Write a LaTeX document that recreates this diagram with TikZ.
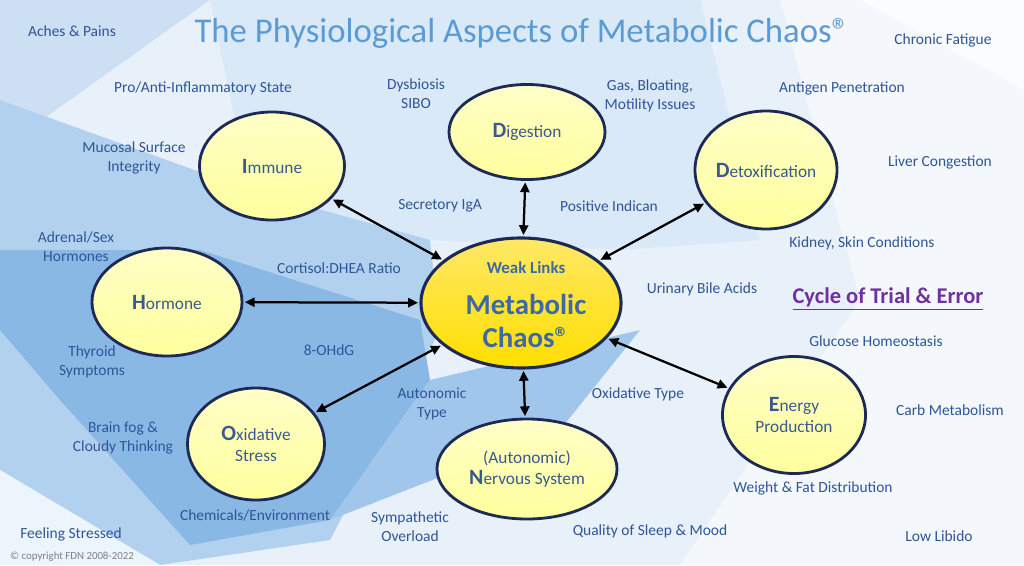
\documentclass[tikz,border=0pt]{standalone}
\usepackage{fontspec}
\setmainfont{Carlito}
\usetikzlibrary{shapes.geometric,arrows.meta}
\definecolor{lblue}{HTML}{2F5597}
\definecolor{ntext}{HTML}{3A5A8C}
\definecolor{ctext}{HTML}{3D69A6}
\definecolor{titleblue}{HTML}{5B9BD5}
\definecolor{navy}{HTML}{1C2A55}
\definecolor{purp}{HTML}{7030A0}
\tikzset{
  lbl/.style={text=lblue, font=\fontsize{11}{13.5}\selectfont, align=center, inner sep=1pt},
  sat/.style={ellipse, draw=navy, line width=2pt, inner sep=0pt, top color=yellow!22, bottom color=yellow!38!white, middle color=yellow!30, text=ntext, font=\fontsize{12.3}{15}\selectfont, align=center},
  core/.style={ellipse, draw=navy, line width=2.2pt, inner sep=0pt, top color=yellow!70!orange!60, bottom color=yellow!75!orange, text=ctext, align=center},
  link/.style={{Triangle[length=7pt,width=6.5pt]}-{Triangle[length=7pt,width=6.5pt]}, line width=1.6pt, black, shorten <=1pt, shorten >=1pt},
  bg/.style={draw=none}
}
\newcommand{\BigL}[1]{{\fontsize{15.5}{15}\selectfont\bfseries #1}}
\begin{document}
\begin{tikzpicture}[x=0.025cm,y=-0.025cm]
\useasboundingbox (0,0) rectangle (1024,565);
% background
\fill[bg, fill={rgb,255:red,232;green,240;blue,250}] (0,0) rectangle (1024,565);
\fill[bg, fill={rgb,255:red,205;green,224;blue,243}] (0,0) -- (210,0) -- (0,150) -- cycle;
\fill[bg, fill={rgb,255:red,218;green,233;blue,248}] (210,0) -- (700,0) -- (760,240) -- (620,250) -- (430,240) -- (250,190) -- cycle;
\fill[bg, fill={rgb,255:red,178;green,209;blue,238}] (0,100) -- (250,190) -- (430,240) -- (440,330) -- (330,540) -- (160,565) -- (0,470) -- cycle;
\fill[bg, fill={rgb,255:red,138;green,184;blue,229}] (0,250) -- (200,250) -- (420,320) -- (430,380) -- (330,520) -- (190,545) -- (60,400) -- (0,330) -- cycle;
\fill[bg, fill={rgb,255:red,160;green,199;blue,235}] (430,380) -- (640,330) -- (560,430) -- (330,520) -- cycle;
\fill[bg, fill={rgb,255:red,244;green,248;blue,253}] (780,0) -- (1024,0) -- (1024,565) -- (680,565) -- (860,300) -- cycle;
\fill[bg, fill={rgb,255:red,236;green,244;blue,252}] (0,470) -- (160,565) -- (0,565) -- cycle;
\fill[bg, fill={rgb,255:red,250;green,252;blue,255}] (860,0) -- (1024,0) -- (1024,90) -- cycle;

% title
\node (title) at (522,33) {\fontsize{24.7}{28}\selectfont\color{titleblue}The Physiological Aspects of Metabolic Chaos®};

% ellipses
\node[core, minimum width=5.0cm, minimum height=3.25cm] (core) at (521,303) {};
\node[text=ctext, font=\fontsize{12}{14}\selectfont\bfseries] (weak) at (526,268) {Weak Links};
\node[text=ctext, font=\fontsize{20.5}{23.5}\selectfont\bfseries, align=center] (mc) at (526,321) {Metabolic\\Chaos®};

\node[sat, minimum width=3.625cm, minimum height=2.7cm] (imm) at (272,166) {\BigL{I}mmune};
\node[sat, minimum width=3.9cm, minimum height=2.375cm] (dig) at (527,132) {\BigL{D}igestion};
\node[sat, minimum width=3.45cm, minimum height=2.95cm] (det) at (766,170) {\BigL{D}etoxification};
\node[sat, minimum width=3.75cm, minimum height=2.7cm] (hor) at (167,302) {\BigL{H}ormone};
\node[sat, minimum width=3.425cm, minimum height=2.8cm] (oxi) at (256,444) {\BigL{O}xidative\\Stress};
\node[sat, minimum width=4.5cm, minimum height=2.5cm] (ner) at (527,469) {(Autonomic)\\\BigL{N}ervous System};
\node[sat, minimum width=3.575cm, minimum height=2.925cm] (ene) at (794,415) {\BigL{E}nergy\\Production};

% links
\draw[link] (imm) -- (core);
\draw[link] (dig) -- (core);
\draw[link] (det) -- (core);
\draw[link] (hor) -- (core);
\draw[link] (oxi) -- (core);
\draw[link] (ner) -- (core);
\draw[link] (ene) -- (core);

% labels
\node[lbl] (l1) at (72,31) {Aches \& Pains};
\node[lbl] (l2) at (203,88) {Pro/Anti-Inflammatory State};
\node[lbl] (l3) at (416,94) {Dysbiosis\\SIBO};
\node[lbl] (l4) at (650,96) {Gas, Bloating,\\Motility Issues};
\node[lbl] (l5) at (842,88) {Antigen Penetration};
\node[lbl] (l6) at (943,40) {Chronic Fatigue};
\node[lbl] (l7) at (134,158) {Mucosal Surface\\Integrity};
\node[lbl] (l8) at (940,162) {Liver Congestion};
\node[lbl] (l9) at (440,206) {Secretory IgA};
\node[lbl] (l10) at (609,206) {Positive Indican};
\node[lbl] (l11) at (862,243) {Kidney, Skin Conditions};
\node[lbl] (l12) at (76,247) {Adrenal/Sex\\Hormones};
\node[lbl] (l13) at (339,268) {Cortisol:DHEA Ratio};
\node[lbl] (l14) at (702,289) {Urinary Bile Acids};
\node[text=purp, font=\fontsize{16}{18}\selectfont\bfseries] (cyc) at (888,299) {\underline{Cycle of Trial \& Error}};
\node[lbl] (l15) at (876,341) {Glucose Homeostasis};
\node[lbl] (l16) at (92,362) {Thyroid\\Symptoms};
\node[lbl] (l17) at (329,350) {8-OHdG};
\node[lbl] (l18) at (432,404) {Autonomic\\Type};
\node[lbl] (l19) at (638,394) {Oxidative Type};
\node[lbl] (l20) at (950,410) {Carb Metabolism};
\node[lbl] (l21) at (123,438) {Brain fog \&\\Cloudy Thinking};
\node[lbl] (l22) at (813,488) {Weight \& Fat Distribution};
\node[lbl] (l23) at (71,534) {Feeling Stressed};
\node[lbl] (l24) at (255,515) {Chemicals/Environment};
\node[lbl] (l25) at (410,527) {Sympathetic\\Overload};
\node[lbl] (l26) at (650,531) {Quality of Sleep \& Mood};
\node[lbl] (l27) at (939,536) {Low Libido};
\node[text=gray, font=\fontsize{7.7}{9}\selectfont, inner sep=0pt] (copy) at (72,557) {© copyright FDN 2008-2022};
\end{tikzpicture}
\end{document}
